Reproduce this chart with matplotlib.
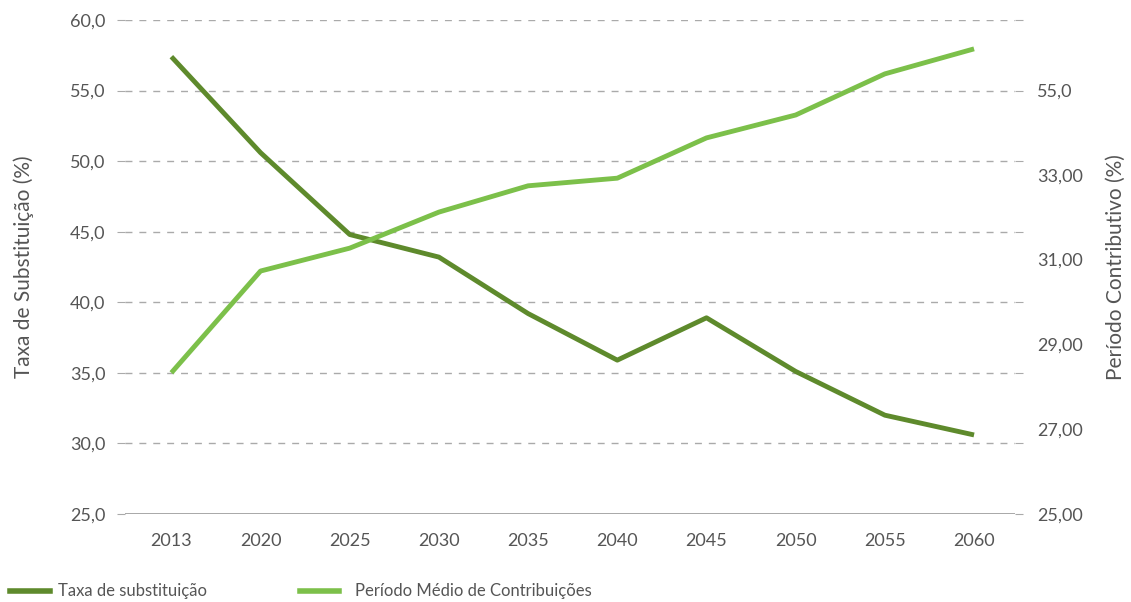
import matplotlib
matplotlib.use("Agg")
import matplotlib.pyplot as plt
import numpy as np

plt.rcParams['font.family'] = ['Lato', 'DejaVu Sans']

# data
anos = ['2013', '2020', '2025', '2030', '2035', '2040', '2045', '2050', '2055', '2060']
taxa = [57.4, 50.6, 44.8, 43.2, 39.2, 35.9, 38.9, 35.1, 32.0, 30.6]
periodo = [28.33, 30.73, 31.27, 32.12, 32.74, 32.92, 33.87, 34.41, 35.38, 35.97]

left_ticks = [25, 30, 35, 40, 45, 50, 55, 60]
left_labels = ['25,0', '30,0', '35,0', '40,0', '45,0', '50,0', '55,0', '60,0']
right_vals = [25, 27, 29, 31, 33, 35]
right_labels = ['25,00', '27,00', '29,00', '31,00', '33,00', '55,0']

dark = '#5e8a2c'
light = '#7cc04a'
txt = '#555555'

fig = plt.figure(figsize=(11.31, 6.02), dpi=100)
ax = fig.add_axes([0.1105, 0.1462, 0.787, 0.8206])
x = np.arange(len(anos))

ax.set_xlim(-0.52, len(anos) - 1 + 0.46)
ax.set_ylim(25, 60)
for v in left_ticks[1:]:
    ax.axhline(v, color='#aaaaaa', lw=1, ls=(0, (5, 5)), zorder=0)
ax.axhline(25, color='#999999', lw=1.2, zorder=0)

ax.set_yticks(left_ticks)
ax.set_yticklabels(left_labels)
ax.set_xticks(x)
ax.set_xticklabels(anos)
ax.tick_params(axis='y', length=6, color='#aaaaaa', labelcolor=txt, labelsize=13, pad=8)
ax.tick_params(axis='x', length=0, labelcolor=txt, labelsize=13, pad=14)
for s in ax.spines.values():
    s.set_visible(False)

ax.plot(x, taxa, color=dark, lw=3.5, solid_capstyle='butt', zorder=3)
ax.set_ylabel('Taxa de Substituição (%)', fontsize=15, color=txt, labelpad=26)

ax2 = ax.twinx()
ax2.yaxis.remove_overlapping_locs = False
# right axis: 25 at baseline, 42.4 px per unit
top = 25 + 494 / 42.4
ax2.set_ylim(25, top)
grid_pos = [25 + (v - 25) * (top - 25) / 35 for v in left_ticks]
ax2.set_yticks(grid_pos)
ax2.set_yticklabels([''] * len(grid_pos))
ax2.set_yticks(right_vals, minor=True)
ax2.set_yticklabels(right_labels, minor=True)
ax2.tick_params(axis='y', which='major', length=6, color='#aaaaaa')
ax2.tick_params(axis='y', which='minor', length=0, labelcolor=txt, labelsize=13, pad=16)
for s in ax2.spines.values():
    s.set_visible(False)
ax2.plot(x, periodo, color=light, lw=3.5, solid_capstyle='butt', zorder=3)
ax2.set_ylabel('Período Contributivo (%)', fontsize=15, color=txt, labelpad=16)

# legend
fig.lines.append(plt.Line2D([0.009, 0.044], [0.019, 0.019], color=dark, lw=4, transform=fig.transFigure))
fig.text(0.051, 0.019, 'Taxa de substituição', fontsize=12, color=txt, va='center')
fig.lines.append(plt.Line2D([0.265, 0.3], [0.019, 0.019], color=light, lw=4, transform=fig.transFigure))
fig.text(0.314, 0.019, 'Período Médio de Contribuições', fontsize=12, color=txt, va='center')

fig.savefig('out.png', dpi=100)
